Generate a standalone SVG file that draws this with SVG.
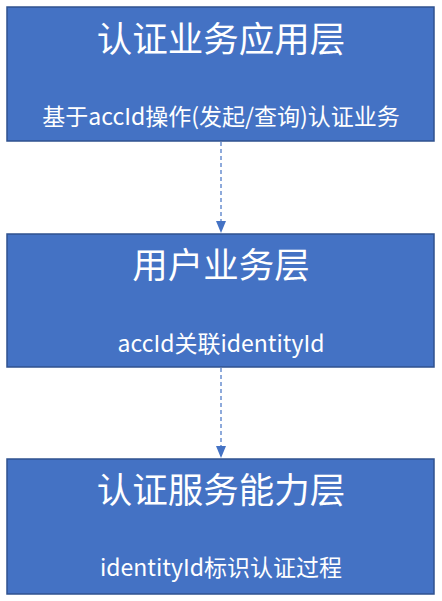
<svg xmlns="http://www.w3.org/2000/svg" width="442" height="601" viewBox="0 0 442 601">
<defs>
<style>
.box{fill:#4472C4;stroke:#2F528F;stroke-width:1.5}
.t{font-family:"Noto Sans CJK SC","Noto Sans",sans-serif;fill:#fff;text-anchor:middle}
.h{font-size:35.5px}
.s{font-size:23px}
.c{stroke:#4472C4;stroke-width:1.2;stroke-dasharray:4 3;fill:none}
</style>
<marker id="ah" viewBox="0 0 12 10" refX="12" refY="5" markerWidth="12" markerHeight="10" markerUnits="userSpaceOnUse" orient="auto">
<path d="M0,0 L12,5 L0,10 z" fill="#4472C4"/>
</marker>
</defs>
<rect width="442" height="601" fill="#fff"/>
<g id="connectors">
<line class="c" x1="221" y1="142" x2="221" y2="233" marker-end="url(#ah)"/>
<line class="c" x1="221" y1="368" x2="221" y2="458" marker-end="url(#ah)"/>
</g>
<g id="node1">
<rect class="box" x="7" y="7" width="427" height="134"/>
<text class="t h" x="221" y="52">认证业务应用层</text>
<text class="t s" x="221" y="125">基于accId操作(发起/查询)认证业务</text>
</g>
<g id="node2">
<rect class="box" x="7" y="234" width="427" height="133"/>
<text class="t h" x="221" y="278">用户业务层</text>
<text class="t s" x="221" y="352">accId关联identityId</text>
</g>
<g id="node3">
<rect class="box" x="7" y="459" width="427" height="135"/>
<text class="t h" x="221" y="503">认证服务能力层</text>
<text class="t s" x="221" y="576">identityId标识认证过程</text>
</g>
</svg>
